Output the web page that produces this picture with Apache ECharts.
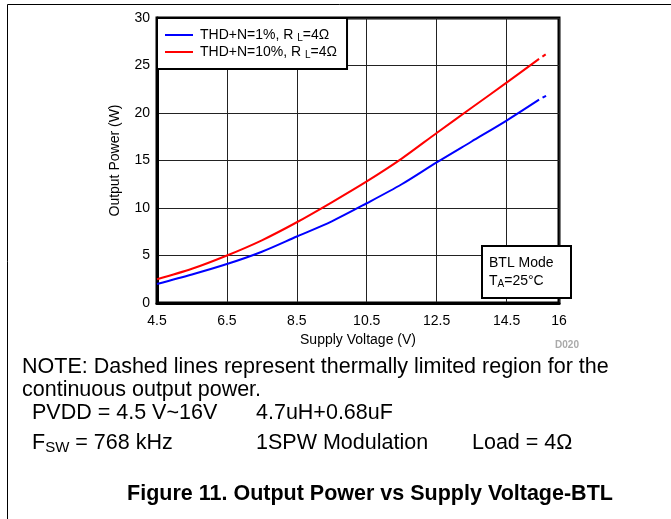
<!DOCTYPE html>
<html>
<head>
<meta charset="utf-8">
<script src="https://cdn.jsdelivr.net/npm/echarts@6/dist/echarts.min.js"></script>
<style>
html,body{margin:0;padding:0;background:#fff;}
#c{width:671px;height:519px;}
</style>
</head>
<body>
<div id="c"></div>
<script>
// ---- data ----
const X_MIN = 4.5;
const X_MAX = 16;
const xTickValues = [4.5, 6.5, 8.5, 10.5, 12.5, 14.5, 16];
const yTickValues = [0, 5, 10, 15, 20, 25, 30];

const voltage = [4.5, 5.5, 6.5, 7.5, 8.5, 9.5, 10.5, 11.5, 12.5, 13.5, 14.5, 15.43];
const power1pct = [2.0, 3.0, 4.1, 5.4, 7.0, 8.6, 10.5, 12.5, 14.8, 17.0, 19.2, 21.4];
const power10pct = [2.5, 3.6, 5.0, 6.6, 8.5, 10.6, 12.8, 15.2, 17.9, 20.55, 23.2, 25.7];

// thermally limited (dashed) tails
const voltageTail = [15.43, 15.67];
const power1pctTail = [21.4, 21.9];
const power10pctTail = [25.7, 26.3];

const seriesNames = ['THD+N=1%, R L=4Ω', 'THD+N=10%, R L=4Ω'];
const legendRich = ['THD+N=1%, R {sub|L}=4Ω', 'THD+N=10%, R {sub|L}=4Ω'];
const seriesColors = ['#0000ff', '#ff0000'];

const FONT = '"Liberation Sans", Arial, Helvetica, sans-serif';

function toXY(xs, ys) {
  return xs.map((v, i) => [v - X_MIN, ys[i]]);
}

const chart = echarts.init(document.getElementById('c'), null, {renderer: 'canvas'});

const NOTE_FONT = '21.5px ' + FONT;

const option = {
  animation: false,
  backgroundColor: '#fff',
  textStyle: {fontFamily: FONT},
  grid: {
    left: 157, right: 112, top: 18, bottom: 216,
    show: true, borderColor: '#000', borderWidth: 3, backgroundColor: 'transparent'
  },
  legend: {
    data: seriesNames,
    orient: 'vertical',
    left: 157, top: 18,
    padding: [9, 10, 9, 8],
    itemGap: 1,
    itemWidth: 28,
    itemHeight: 2,
    icon: 'rect',
    backgroundColor: '#fff',
    borderColor: '#000',
    borderWidth: 2,
    borderRadius: 0,
    z: 10,
    formatter: function (name) {
      return legendRich[seriesNames.indexOf(name)];
    },
    textStyle: {
      fontFamily: FONT, fontSize: 14, color: '#000', lineHeight: 16, padding: [0, 0, 0, 2],
      rich: {
        sub: {fontFamily: FONT, fontSize: 10, color: '#000', padding: [6, 0, 0, 0]}
      }
    }
  },
  xAxis: {
    type: 'value',
    min: 0, max: X_MAX - X_MIN, interval: 2,
    name: 'Supply Voltage (V)',
    nameLocation: 'middle',
    nameGap: 27,
    nameTextStyle: {fontFamily: FONT, fontSize: 14, color: '#000'},
    axisLine: {show: true, onZero: false, lineStyle: {color: '#000', width: 3}},
    axisTick: {show: false},
    axisLabel: {
      fontFamily: FONT, fontSize: 14, color: '#000', margin: 11,
      showMinLabel: true, showMaxLabel: true,
      formatter: function (v) { return String(Math.round((v + X_MIN) * 10) / 10); }
    },
    splitLine: {show: true, lineStyle: {color: '#222', width: 1}}
  },
  yAxis: {
    type: 'value',
    min: yTickValues[0], max: yTickValues[yTickValues.length - 1], interval: 5,
    name: 'Output Power (W)',
    nameLocation: 'middle',
    nameGap: 35,
    nameTextStyle: {fontFamily: FONT, fontSize: 14, color: '#000'},
    axisLine: {show: true, lineStyle: {color: '#000', width: 3}},
    axisTick: {show: false},
    axisLabel: {fontFamily: FONT, fontSize: 14, color: '#000', margin: 7},
    splitLine: {show: true, lineStyle: {color: '#222', width: 1}}
  },
  series: [
    {
      name: seriesNames[0], type: 'line', smooth: 0.3, symbol: 'none',
      data: toXY(voltage, power1pct),
      lineStyle: {color: seriesColors[0], width: 2}, itemStyle: {color: seriesColors[0]}, z: 3
    },
    {
      name: seriesNames[1], type: 'line', smooth: 0.3, symbol: 'none',
      data: toXY(voltage, power10pct),
      lineStyle: {color: seriesColors[1], width: 2}, itemStyle: {color: seriesColors[1]}, z: 3
    },
    {
      name: seriesNames[0] + ' (thermal)', type: 'line', symbol: 'none',
      data: toXY(voltageTail, power1pctTail),
      lineStyle: {color: seriesColors[0], width: 2, type: [4, 4], dashOffset: 4}, z: 3
    },
    {
      name: seriesNames[1] + ' (thermal)', type: 'line', symbol: 'none',
      data: toXY(voltageTail, power10pctTail),
      lineStyle: {color: seriesColors[1], width: 2, type: [4, 4], dashOffset: 4}, z: 3
    }
  ],
  graphic: [
    // outer frame lines
    {type: 'line', z: 100, shape: {x1: 7.5, y1: 4.5, x2: 671, y2: 4.5}, style: {stroke: '#000', lineWidth: 1}},
    {type: 'line', z: 100, shape: {x1: 7.5, y1: 4.5, x2: 7.5, y2: 519}, style: {stroke: '#000', lineWidth: 1}},
    // BTL box
    {type: 'rect', z: 100, shape: {x: 482, y: 246, width: 89, height: 52},
      style: {fill: '#fff', stroke: '#000', lineWidth: 2}},
    {type: 'text', z: 101, x: 489, y: 263,
      style: {text: 'BTL Mode', font: '14px ' + FONT, fill: '#000', verticalAlign: 'middle'}},
    {type: 'text', z: 101, x: 489, y: 281,
      style: {text: 'T{sub|A}=25°C', font: '14px ' + FONT, fill: '#000', verticalAlign: 'middle',
        rich: {sub: {font: '10px ' + FONT, fill: '#000', padding: [6, 0, 0, 0]}}}},
    // chart id
    {type: 'text', z: 101, x: 567, y: 345,
      style: {text: 'D020', font: 'bold 10px ' + FONT, fill: '#aaa', align: 'center', verticalAlign: 'middle'}},
    // notes
    {type: 'text', z: 101, x: 22, y: 367,
      style: {text: 'NOTE: Dashed lines represent thermally limited region for the', font: NOTE_FONT, fill: '#000', verticalAlign: 'middle'}},
    {type: 'text', z: 101, x: 22, y: 390,
      style: {text: 'continuous output power.', font: NOTE_FONT, fill: '#000', verticalAlign: 'middle'}},
    {type: 'text', z: 101, x: 32, y: 413,
      style: {text: 'PVDD = 4.5 V~16V', font: NOTE_FONT, fill: '#000', verticalAlign: 'middle'}},
    {type: 'text', z: 101, x: 256, y: 413,
      style: {text: '4.7uH+0.68uF', font: NOTE_FONT, fill: '#000', verticalAlign: 'middle'}},
    {type: 'text', z: 101, x: 32, y: 443,
      style: {text: 'F{sub|SW} = 768 kHz', font: NOTE_FONT, fill: '#000', verticalAlign: 'middle',
        rich: {sub: {font: '15px ' + FONT, fill: '#000', padding: [9, 0, 0, 0]}}}},
    {type: 'text', z: 101, x: 256, y: 443,
      style: {text: '1SPW Modulation', font: NOTE_FONT, fill: '#000', verticalAlign: 'middle'}},
    {type: 'text', z: 101, x: 472, y: 443,
      style: {text: 'Load = 4Ω', font: NOTE_FONT, fill: '#000', verticalAlign: 'middle'}},
    {type: 'text', z: 101, x: 370, y: 494,
      style: {text: 'Figure 11. Output Power vs Supply Voltage-BTL', font: 'bold 21.5px ' + FONT, fill: '#000', align: 'center', verticalAlign: 'middle'}}
  ]
};

chart.setOption(option);
</script>
</body>
</html>
